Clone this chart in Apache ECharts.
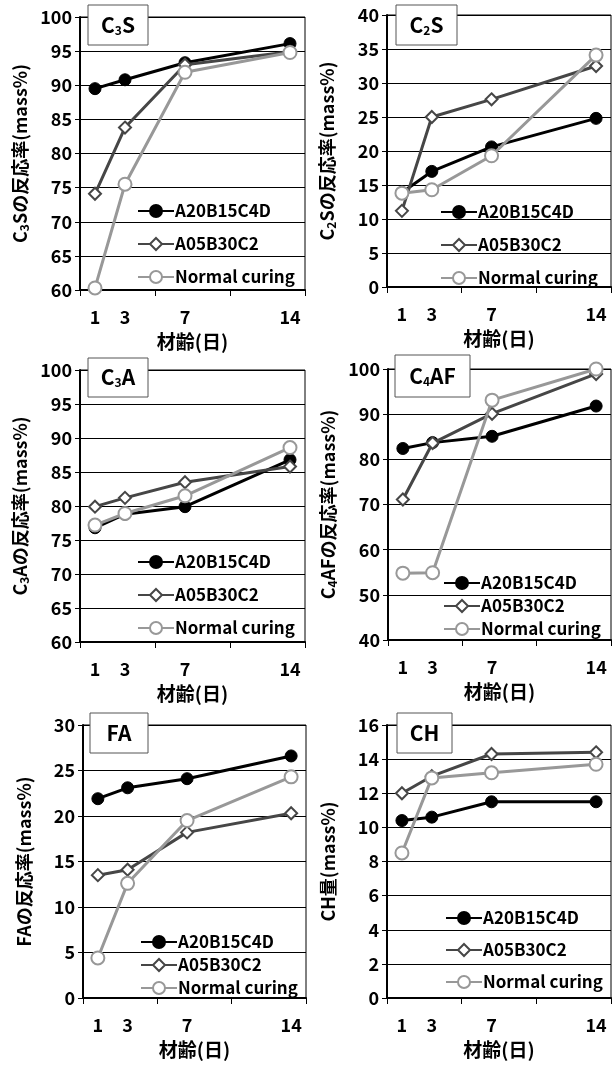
<!DOCTYPE html>
<html><head><meta charset="utf-8">
<script src="https://cdn.jsdelivr.net/npm/echarts@6/dist/echarts.min.js"></script>
<style>html,body{margin:0;padding:0;background:#fff}#c{width:612px;height:1065px}</style>
</head><body><div id="c"></div>
<script>
// ---- data ----
const days = [1, 3, 7, 14];
const xTickLabels = [1, 3, 7, 14];
const seriesNames = ['A20B15C4D', 'A05B30C2', 'Normal curing'];

const c3s_A20 = [89.5, 90.8, 93.3, 96.1];
const c3s_A05 = [74.1, 83.8, 93.0, 94.9];
const c3s_NC  = [60.3, 75.5, 91.9, 94.8];

const c2s_A20 = [13.9, 17.0, 20.6, 24.8];
const c2s_A05 = [11.2, 25.0, 27.6, 32.5];
const c2s_NC  = [13.8, 14.3, 19.3, 34.1];

const c3a_A20 = [76.8, 78.8, 79.9, 86.8];
const c3a_A05 = [79.9, 81.2, 83.5, 85.8];
const c3a_NC  = [77.2, 78.9, 81.5, 88.6];

const c4af_A20 = [82.4, 83.7, 85.1, 91.8];
const c4af_A05 = [71.1, 83.6, 90.1, 98.9];
const c4af_NC  = [54.8, 54.9, 93.1, 100.0];

const fa_A20 = [21.9, 23.1, 24.1, 26.6];
const fa_A05 = [13.5, 14.1, 18.2, 20.3];
const fa_NC  = [4.4, 12.6, 19.5, 24.3];

const ch_A20 = [10.4, 10.6, 11.5, 11.5];
const ch_A05 = [12.0, 13.0, 14.3, 14.4];
const ch_NC  = [8.5, 12.9, 13.2, 13.7];

const xTitle = '材齢(日)';

// ---- layout / style ----
const FF = '"Noto Sans CJK JP", sans-serif';
const panels = [
  {grid:{left:80,top:17,width:225,height:273}, y:[60,100,5], data:[c3s_A20,c3s_A05,c3s_NC],
   yname:'{b|C}{s|3}{b|Sの反応率}{m|(mass%)}', title:'{t|C}{ts|3}{t|S}', box:[88,5,60,40], leg:[137,202,15]},
  {grid:{left:387,top:15,width:224,height:272}, y:[0,40,5], data:[c2s_A20,c2s_A05,c2s_NC],
   yname:'{b|C}{s|2}{b|Sの反応率}{m|(mass%)}', title:'{t|C}{ts|2}{t|S}', box:[396,5,61,40], leg:[440,203,15]},
  {grid:{left:80,top:370,width:225,height:272}, y:[60,100,5], data:[c3a_A20,c3a_A05,c3a_NC],
   yname:'{b|C}{s|3}{b|Aの反応率}{m|(mass%)}', title:'{t|C}{ts|3}{t|A}', box:[88,358,60,39], leg:[137,553,15]},
  {grid:{left:388,top:369,width:223,height:271}, y:[40,100,10], data:[c4af_A20,c4af_A05,c4af_NC],
   yname:'{b|C}{s|4}{b|AFの反応率}{m|(mass%)}', title:'{t|C}{ts|4}{t|AF}', box:[395,355,75,42], leg:[443,574,5]},
  {grid:{left:83,top:725,width:223,height:273}, y:[0,30,5], data:[fa_A20,fa_A05,fa_NC],
   yname:'{b|FAの反応率}{m|(mass%)}', title:'{t|FA}', box:[90,713,58,40], leg:[140,933,5]},
  {grid:{left:387,top:725,width:224,height:273}, y:[0,16,2], data:[ch_A20,ch_A05,ch_NC],
   yname:'{b|CH量}{m|(mass%)}', title:'{t|CH}', box:[397,713,55,40], leg:[445,909,14]}
];

const sStyles = [
  {symbol:'circle', size:12, fill:'#000', border:'#000', line:'#000'},
  {symbol:'diamond', size:12, fill:'#fff', border:'#464646', line:'#464646'},
  {symbol:'circle', size:13, fill:'#fff', border:'#989898', line:'#989898'}
];

const grids = [], xAxes = [], yAxes = [], series = [], legends = [], graphics = [];
panels.forEach((p, i) => {
  grids.push(Object.assign({show:true, borderColor:'#000', borderWidth:1, backgroundColor:'#fff', containLabel:false}, p.grid));
  xAxes.push({
    gridIndex:i, type:'value', min:0, max:15, interval:5,
    axisLine:{show:true, onZero:false, lineStyle:{color:'#000', width:2}},
    axisTick:{show:true, length:6, customValues:[0,5,10,15], lineStyle:{color:'#000', width:1}},
    axisLabel:{customValues:xTickLabels, color:'#000', fontSize:18, fontWeight:'bold', fontFamily:FF, margin:18},
    splitLine:{show:false},
    name:xTitle, nameLocation:'middle', nameGap:42,
    nameTextStyle:{color:'#000', fontSize:19, fontWeight:'bold', fontFamily:FF}
  });
  yAxes.push({
    gridIndex:i, type:'value', min:p.y[0], max:p.y[1], interval:p.y[2],
    axisLine:{show:true, onZero:false, lineStyle:{color:'#000', width:2}},
    axisTick:{show:true, length:5, lineStyle:{color:'#000', width:1}},
    axisLabel:{color:'#000', fontSize:18, fontWeight:'bold', fontFamily:FF, margin:8},
    splitLine:{show:true, lineStyle:{color:'#000', width:1}},
    name:p.yname, nameLocation:'middle', nameRotate:90, nameGap:50,
    nameTextStyle:{color:'#000', fontFamily:FF, rich:{
      b:{fontSize:18, fontWeight:'bold', fontFamily:FF, color:'#000'},
      s:{fontSize:12, fontWeight:'bold', fontFamily:FF, color:'#000', padding:[8,0,0,0]},
      m:{fontSize:18, fontWeight:'bold', fontFamily:FF, color:'#000'}
    }}
  });
  p.data.forEach((vals, k) => {
    const st = sStyles[k];
    series.push({
      type:'line', name:seriesNames[k], xAxisIndex:i, yAxisIndex:i,
      data: days.map((d, j) => [d, vals[j]]),
      symbol:st.symbol, symbolSize:st.size, showAllSymbol:true, clip:false,
      lineStyle:{color:st.line, width:3},
      itemStyle:{color:st.fill, borderColor:st.border, borderWidth: k === 0 ? 1 : 2},
      z: 3 + k
    });
  });
  legends.push({
    left:p.leg[0], top:p.leg[1], orient:'vertical', itemWidth:36, itemHeight:15, itemGap:p.leg[2],
    selectedMode:false, padding:0, data:seriesNames,
    textStyle:{color:'#000', fontSize:17, fontWeight:'bold', fontFamily:FF, lineHeight:18, padding:[0,0,0,-4]}
  });
  const b = p.box;
  graphics.push({type:'rect', shape:{x:b[0], y:b[1], width:b[2], height:b[3]},
    style:{fill:'#fff', stroke:'#555', lineWidth:1}, z:100});
  graphics.push({type:'text', x:b[0] + b[2]/2, y:b[1] + b[3]/2, z:101,
    style:{text:p.title, align:'center', verticalAlign:'middle', rich:{
      t:{fontSize:21, fontWeight:'bold', fontFamily:FF, fill:'#000'},
      ts:{fontSize:12, fontWeight:'bold', fontFamily:FF, fill:'#000', padding:[10,0,0,0]}
    }}});
});

const chart = echarts.init(document.getElementById('c'), null, {renderer:'canvas'});
chart.setOption({
  animation:false, backgroundColor:'#fff',
  grid:grids, xAxis:xAxes, yAxis:yAxes, series:series, legend:legends, graphic:graphics
});
</script>
</body></html>
